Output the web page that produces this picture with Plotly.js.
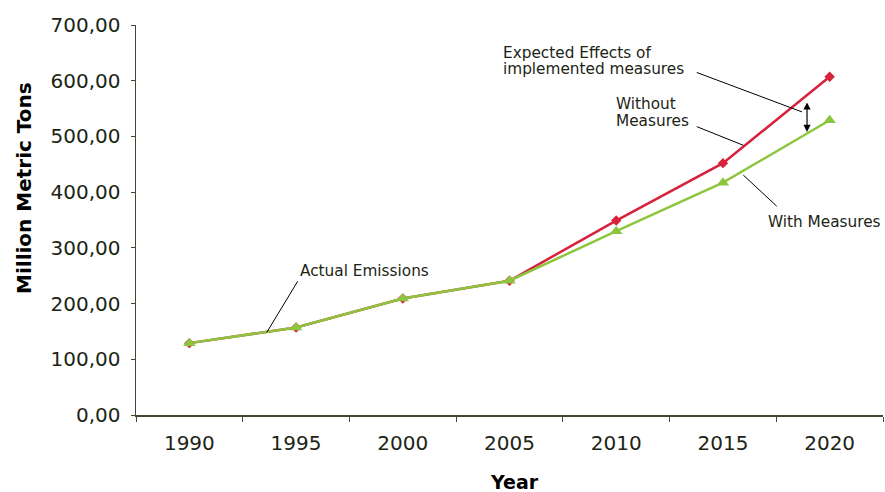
<!DOCTYPE html>
<html>
<head>
<meta charset="utf-8">
<script src="https://cdn.plot.ly/plotly-3.0.1.min.js"></script>
<style>
  html, body { margin: 0; padding: 0; background: #ffffff; }
  #chart { width: 885px; height: 492px; }
</style>
</head>
<body>
<div id="chart"></div>
<script>
// Emission projections, million metric tons
const years = ['1990', '1995', '2000', '2005', '2010', '2015', '2020'];
const withoutMeasures = [129, 157, 209, 241, 349, 452, 607];
const withMeasures = [129, 157, 209, 241, 330, 417, 529];
const yTickVals = [0, 100, 200, 300, 400, 500, 600, 700];
const yTickText = ['0,00', '100,00', '200,00', '300,00', '400,00', '500,00', '600,00', '700,00'];

const FONT = '"DejaVu Sans", Verdana, sans-serif';
const INK = '#1c2414';
const AXIS = '#3f4a33';
const RED = '#d8213b';
const GREEN = '#8cc63e';

const traces = [
  {
    x: years, y: withoutMeasures, type: 'scatter', mode: 'lines+markers',
    name: 'Without Measures',
    line: { color: RED, width: 2.5 },
    marker: { symbol: 'diamond', size: 8, color: RED }
  },
  {
    x: years, y: withMeasures, type: 'scatter', mode: 'lines+markers',
    name: 'With Measures',
    line: { color: GREEN, width: 2.5 },
    marker: { symbol: 'triangle-up', size: 11, color: GREEN }
  }
];

// thin leader line from a label to the curve
function leader(x0, y0, x1, y1) {
  return { type: 'line', xref: 'x', yref: 'y', x0: x0, y0: y0, x1: x1, y1: y1,
           line: { color: '#000000', width: 1 } };
}

function label(text, x, y) {
  return { text: text, x: x, y: y, xref: 'x', yref: 'y', xanchor: 'left', yanchor: 'middle',
           showarrow: false, borderpad: 0,
           font: { family: FONT, size: 15.3, color: INK } };
}

const layout = {
  width: 885, height: 492,
  margin: { l: 136, r: 2, t: 25, b: 77 },
  paper_bgcolor: '#ffffff', plot_bgcolor: '#ffffff',
  showlegend: false,
  font: { family: FONT, color: INK },
  xaxis: {
    type: 'category', range: [-0.5, 6.5], tickson: 'boundaries',
    showgrid: false, zeroline: false,
    showline: true, linecolor: AXIS, linewidth: 1.5,
    ticks: 'outside', ticklen: 5, tickcolor: AXIS, tickwidth: 1,
    ticklabelstandoff: 9,
    tickfont: { family: FONT, size: 20, color: INK }
  },
  yaxis: {
    range: [0, 700], tickvals: yTickVals, ticktext: yTickText,
    showgrid: false, zeroline: false,
    showline: true, linecolor: AXIS, linewidth: 1.5,
    ticks: 'outside', ticklen: 4, tickcolor: AXIS, tickwidth: 1,
    ticklabelstandoff: 6,
    tickfont: { family: FONT, size: 20, color: INK }
  },
  shapes: [
    leader(1.015, 239.9, 0.725, 148.1),
    leader(4.755, 614.8, 5.741, 544.0),
    leader(4.755, 517.6, 5.191, 484.1),
    leader(5.504, 374.8, 5.191, 430.6)
  ],
  annotations: [
    { text: '<b>Million Metric Tons</b>', xref: 'paper', yref: 'paper', x: -0.15, y: 0.582,
      xanchor: 'center', yanchor: 'middle', textangle: -90, showarrow: false,
      font: { family: FONT, size: 20, color: '#000000' } },
    { text: '<b>Year</b>', xref: 'paper', yref: 'paper', x: 0.507, y: -0.172,
      xanchor: 'center', yanchor: 'middle', showarrow: false,
      font: { family: FONT, size: 19, color: '#000000' } },
    label('Actual Emissions', 1.0275, 259.1),
    label('Expected Effects of', 2.930, 649.6),
    label('implemented measures', 2.930, 620.8),
    label('Without', 3.989, 557.9),
    label('Measures', 3.989, 527.3),
    label('With Measures', 5.410, 346.0),
    // gap between the two projections
    { text: '', xref: 'x', yref: 'y', axref: 'x', ayref: 'y',
      x: 5.788, y: 508.0, ax: 5.788, ay: 563.8,
      showarrow: true, arrowside: 'end+start', arrowhead: 2, arrowsize: 1.2,
      arrowwidth: 1.2, arrowcolor: '#000000', standoff: 0, startstandoff: 0 }
  ]
};

Plotly.newPlot('chart', traces, layout, { displayModeBar: false, staticPlot: true });
</script>
</body>
</html>
